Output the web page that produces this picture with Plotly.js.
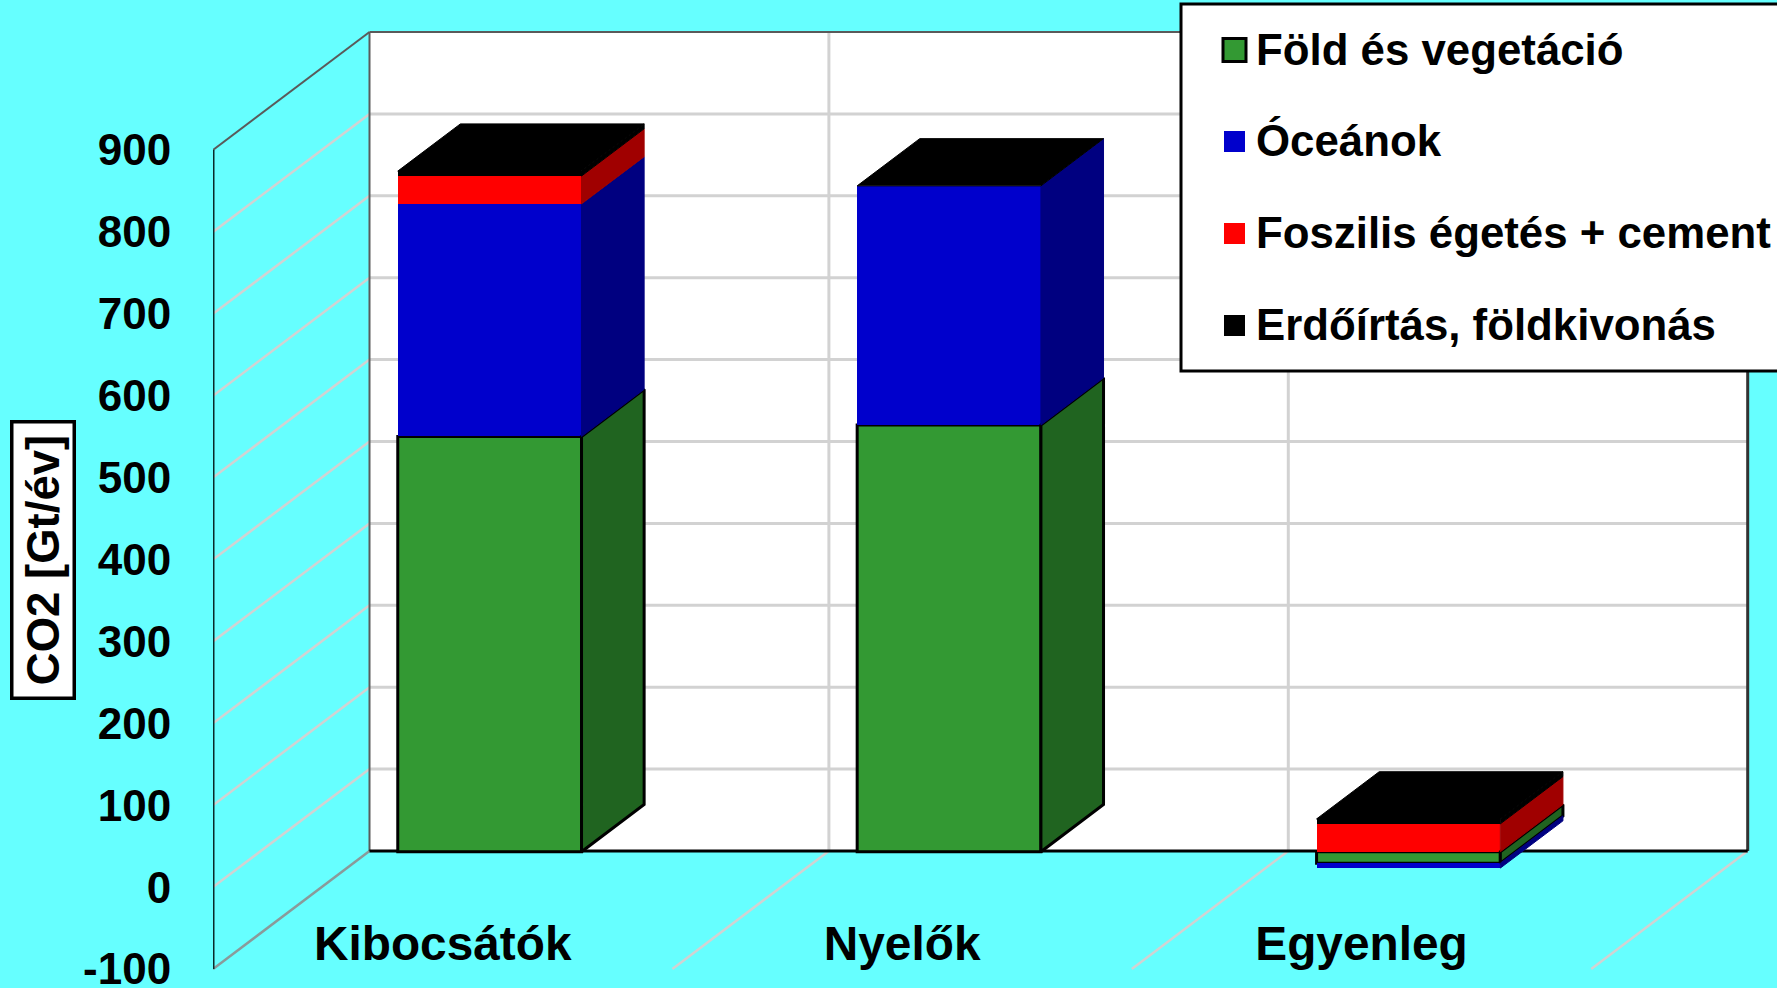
<!DOCTYPE html>
<html>
<head>
<meta charset="utf-8">
<script src="https://cdn.plot.ly/plotly-3.0.0.min.js"></script>
<style>
  html, body { margin: 0; padding: 0; background: #66FFFF; overflow: hidden; }
  #chart { width: 1777px; height: 988px; }
</style>
</head>
<body>
<div id="chart"></div>
<script>
// CO2 budget, Gt/év, shown as stacked columns in an oblique 3D style.
const categories = ['Kibocsátók', 'Nyelők', 'Egyenleg'];
const seriesNames = ['Föld és vegetáció', 'Óceánok', 'Foszilis égetés + cement', 'Erdőírtás, földkivonás'];
const landValues = [507, 521, -14];
const oceanValues = [284, 292, -6];
const fossilValues = [34, 0, 34];
const clearingValues = [6, 0, 6];
const yTickValues = [-100, 0, 100, 200, 300, 400, 500, 600, 700, 800, 900];
const yTickLabels = ['-100', '0', '100', '200', '300', '400', '500', '600', '700', '800', '900'];

const frontColors = ['#339933', '#0000CC', '#FF0000', '#000000'];
const sideColors = ['#206420', '#000080', '#A00000', '#000000'];
const edgeColors = ['#000000', null, null, null];

// Oblique projection: depth 0 is the axis plane, depth 1 the back wall.
const CATEGORY_PX = 459.4;
const DEPTH_X = 156.5 / CATEGORY_PX;   // category units
const DEPTH_Y = 144.1;                 // value units
const BAR_WIDTH = 0.4;
const BAR_FRONT = 0.3;
const BAR_BACK = 0.7;
const project = (c, v, d) => [c + d * DEPTH_X, v + d * DEPTH_Y];

const allValues = [landValues, oceanValues, fossilValues, clearingValues];

// Stack every category: positives upward, negatives downward.
const spans = allValues.map(() => []);
const tops = [];
categories.forEach((_, c) => {
  let up = 0, down = 0;
  allValues.forEach((vals, s) => {
    const v = vals[c];
    if (v >= 0) { spans[s][c] = [up, up + v]; up += v; }
    else { spans[s][c] = [down + v, down]; down += v; }
  });
  tops[c] = up;
});

const traces = [];

// Front faces as real bars, shifted to the depth of the column front.
allValues.forEach((vals, s) => {
  traces.push({
    type: 'bar',
    x: categories.map((_, c) => c + BAR_FRONT * DEPTH_X),
    base: spans[s].map(sp => sp[0] + BAR_FRONT * DEPTH_Y),
    y: spans[s].map(sp => sp[1] - sp[0]),
    width: BAR_WIDTH,
    name: seriesNames[s],
    showlegend: false,
    marker: {
      color: frontColors[s],
      line: edgeColors[s] ? { color: edgeColors[s], width: 3 } : { width: 0 }
    }
  });
});

// Right-hand side faces of each stack segment.
allValues.forEach((vals, s) => {
  const xs = [], ys = [];
  categories.forEach((_, c) => {
    const [lo, hi] = spans[s][c];
    if (hi === lo) return;
    const right = c + BAR_WIDTH / 2;
    [[lo, BAR_FRONT], [hi, BAR_FRONT], [hi, BAR_BACK], [lo, BAR_BACK], [lo, BAR_FRONT]].forEach(([v, d]) => {
      const p = project(right, v, d);
      xs.push(p[0]); ys.push(p[1]);
    });
    xs.push(null); ys.push(null);
  });
  traces.push({
    type: 'scatter', mode: 'lines', x: xs, y: ys, fill: 'toself',
    fillcolor: sideColors[s], showlegend: false,
    line: { color: edgeColors[s] || sideColors[s], width: edgeColors[s] ? 3 : 1 }
  });
});

// Top faces take the colour of the last series in the stack.
{
  const xs = [], ys = [];
  categories.forEach((_, c) => {
    const l = c - BAR_WIDTH / 2, r = c + BAR_WIDTH / 2, t = tops[c];
    [[l, BAR_FRONT], [r, BAR_FRONT], [r, BAR_BACK], [l, BAR_BACK], [l, BAR_FRONT]].forEach(([cx, d]) => {
      const p = project(cx, t, d);
      xs.push(p[0]); ys.push(p[1]);
    });
    xs.push(null); ys.push(null);
  });
  traces.push({
    type: 'scatter', mode: 'lines', x: xs, y: ys, fill: 'toself',
    fillcolor: frontColors[3], showlegend: false,
    line: { color: frontColors[3], width: 1 }
  });
}

// Chart frame: wall, side and floor lines, all under the columns.
const GRID = '#D2D2D2';
const EDGE = '#5A5A5A';
const Y_MIN = yTickValues[0];
const Y_MAX = yTickValues[yTickValues.length - 1];
const X_LEFT = -0.5;
const X_RIGHT = categories.length - 0.5;

function seg(c0, v0, d0, c1, v1, d1, color, width) {
  const a = project(c0, v0, d0), b = project(c1, v1, d1);
  return { type: 'line', xref: 'x', yref: 'y', layer: 'below',
           x0: a[0], y0: a[1], x1: b[0], y1: b[1], line: { color, width } };
}

const wallA = project(X_LEFT, Y_MIN, 1), wallB = project(X_RIGHT, Y_MAX, 1);
const shapes = [{
  type: 'rect', xref: 'x', yref: 'y', layer: 'below',
  x0: wallA[0], y0: wallA[1], x1: wallB[0], y1: wallB[1],
  fillcolor: '#FFFFFF', line: { width: 0 }
}];

yTickValues.slice(1, -1).forEach(v => {
  shapes.push(seg(X_LEFT, v, 0, X_LEFT, v, 1, GRID, 2.5));
  shapes.push(seg(X_LEFT, v, 1, X_RIGHT, v, 1, GRID, 3));
});
for (let i = 1; i < categories.length; i++) {
  shapes.push(seg(X_LEFT + i, Y_MIN, 1, X_LEFT + i, Y_MAX, 1, GRID, 3));
  shapes.push(seg(X_LEFT + i, Y_MIN, 0, X_LEFT + i, Y_MIN, 1, GRID, 2.5));
}
shapes.push(seg(X_RIGHT, Y_MIN, 0, X_RIGHT, Y_MIN, 1, GRID, 2.5));
shapes.push(seg(X_LEFT, Y_MIN, 0, X_LEFT, Y_MIN, 1, '#8A9A9A', 2.5));
shapes.push(seg(X_LEFT, Y_MIN, 1, X_LEFT, Y_MAX, 1, EDGE, 2));
shapes.push(seg(X_LEFT, Y_MAX, 1, X_RIGHT, Y_MAX, 1, EDGE, 2));
shapes.push(seg(X_LEFT, Y_MAX, 0, X_LEFT, Y_MAX, 1, EDGE, 2));
shapes.push(seg(X_RIGHT, Y_MIN, 1, X_RIGHT, Y_MAX, 1, '#333333', 3));
shapes.push(seg(X_LEFT, Y_MIN, 1, X_RIGHT, Y_MIN, 1, '#000000', 3));
shapes.push(seg(X_LEFT, Y_MIN, 0, X_LEFT, Y_MAX, 0, '#0A2A2A', 3));

// Page-pixel helpers for the boxed legend and the unit label.
const PLOT_L = 213, PLOT_W = 1564, PLOT_H = 988;
const VALUE_PX = 0.819;
const FLOOR_PX = 19 / VALUE_PX;   // value span between the -100 tick and the page bottom
const px = x => (x - PLOT_L) / PLOT_W;
const py = y => (PLOT_H - y) / PLOT_H;
const FONT = 'Liberation Sans, Arial, sans-serif';

// Legend box, running off the right-hand edge.
shapes.push({
  type: 'rect', xref: 'paper', yref: 'paper', layer: 'above',
  x0: px(1181), x1: px(1790), y0: py(371), y1: py(4),
  fillcolor: '#FFFFFF', line: { color: '#000000', width: 3 }
});

const legendRowY = [50, 141.5, 233.5, 325.5];
const annotations = [];
seriesNames.forEach((name, s) => {
  const half = edgeColors[s] ? 11.5 : 10.5;
  shapes.push({
    type: 'rect', xref: 'paper', yref: 'paper', layer: 'above',
    x0: px(1234.5 - half), x1: px(1234.5 + half),
    y0: py(legendRowY[s] + half), y1: py(legendRowY[s] - half),
    fillcolor: frontColors[s],
    line: edgeColors[s] ? { color: edgeColors[s], width: 3 } : { width: 0 }
  });
  annotations.push({
    xref: 'paper', yref: 'paper', x: px(1254), y: py(legendRowY[s] - 1),
    xanchor: 'left', yanchor: 'middle', showarrow: false, text: name,
    font: { family: FONT, size: 43.8, color: '#000000', weight: 700 }
  });
});

annotations.push({
  xref: 'paper', yref: 'paper', x: px(42.5), y: py(560.5),
  xanchor: 'center', yanchor: 'middle', showarrow: false, text: 'CO2 [Gt/év]',
  textangle: -90, bgcolor: '#FFFFFF', bordercolor: '#000000', borderwidth: 3.5, borderpad: 0,
  width: 273, height: 59,
  font: { family: FONT, size: 45.5, color: '#000000', weight: 700 }
});

const layout = {
  width: 1777, height: 988,
  margin: { l: PLOT_L, r: 0, t: 0, b: 0, pad: 0 },
  paper_bgcolor: '#66FFFF', plot_bgcolor: 'rgba(0,0,0,0)',
  barmode: 'overlay', bargap: 0, showlegend: false, hovermode: false,
  xaxis: {
    type: 'linear', range: [X_LEFT, X_LEFT + PLOT_W / CATEGORY_PX], fixedrange: true,
    anchor: 'free', position: (988 - 911) / 988,
    tickmode: 'array', tickvals: categories.map((_, i) => i), ticktext: categories,
    tickangle: 0, ticks: '',
    showgrid: false, zeroline: false, showline: false,
    tickfont: { family: FONT, size: 47.8, color: '#000000', weight: 700 }
  },
  yaxis: {
    type: 'linear', range: [Y_MIN - FLOOR_PX, Y_MIN - FLOOR_PX + PLOT_H / VALUE_PX], fixedrange: true,
    tickmode: 'array', tickvals: yTickValues, ticktext: yTickLabels,
    ticklabeloverflow: 'allow',
    ticks: 'outside', ticklen: 32, tickcolor: 'rgba(0,0,0,0)', tickwidth: 1,
    showgrid: false, zeroline: false, showline: false,
    tickfont: { family: FONT, size: 44, color: '#000000', weight: 700 }
  },
  shapes, annotations
};

Plotly.newPlot('chart', traces, layout, { displayModeBar: false, staticPlot: true });
</script>
</body>
</html>
